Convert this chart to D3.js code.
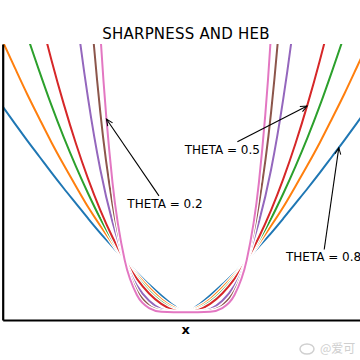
<!DOCTYPE html>
<html>
<head>
<meta charset="utf-8">
<script src="https://cdn.jsdelivr.net/npm/d3@7"></script>
<style>
  body { margin: 0; background: #fff; }
  text { font-family: "DejaVu Sans", sans-serif; }
</style>
</head>
<body>
<div id="chart"></div>
<script>
// sample positions along x
const xs = [-3.0,-2.8,-2.6,-2.4,-2.2,-2.0,-1.8,-1.6,-1.4,-1.2,-1.0,-0.8,-0.6,-0.4,-0.2,0,
            0.2,0.4,0.6,0.8,1.0,1.2,1.4,1.6,1.8,2.0,2.2,2.4,2.6,2.8,3.0];

// one curve per theta (0.8 ... 0.2)
const thetas = ["0.8", "0.67", "0.57", "0.5", "0.33", "0.25", "0.2"];
const curveBlue   = [3.95,3.62,3.30,2.99,2.68,2.38,2.09,1.80,1.52,1.26,1.00,0.76,0.53,0.32,0.13,0,
                     0.13,0.32,0.53,0.76,1.00,1.26,1.52,1.80,2.09,2.38,2.68,2.99,3.30,3.62,3.95];
const curveOrange = [5.20,4.69,4.19,3.72,3.26,2.83,2.42,2.02,1.66,1.32,1.00,0.72,0.47,0.25,0.09,0,
                     0.09,0.25,0.47,0.72,1.00,1.32,1.66,2.02,2.42,2.83,3.26,3.72,4.19,4.69,5.20];
const curveGreen  = [6.84,6.06,5.32,4.63,3.97,3.36,2.80,2.28,1.80,1.38,1.00,0.68,0.41,0.20,0.06,0,
                     0.06,0.20,0.41,0.68,1.00,1.38,1.80,2.28,2.80,3.36,3.97,4.63,5.32,6.06,6.84];
const curveRed    = [9.00,7.84,6.76,5.76,4.84,4.00,3.24,2.56,1.96,1.44,1.00,0.64,0.36,0.16,0.04,0,
                     0.04,0.16,0.36,0.64,1.00,1.44,1.96,2.56,3.24,4.00,4.84,5.76,6.76,7.84,9.00];
const curvePurple = [27.0,21.95,17.58,13.82,10.65,8.00,5.83,4.10,2.74,1.73,1.00,0.51,0.22,0.06,0.01,0,
                     0.01,0.06,0.22,0.51,1.00,1.73,2.74,4.10,5.83,8.00,10.65,13.82,17.58,21.95,27.0];
const curveBrown  = [81.0,61.5,45.7,33.2,23.4,16.0,10.5,6.55,3.84,2.07,1.00,0.41,0.13,0.03,0.002,0,
                     0.002,0.03,0.13,0.41,1.00,2.07,3.84,6.55,10.5,16.0,23.4,33.2,45.7,61.5,81.0];
const curvePink   = [243,172,119,79.6,51.5,32.0,18.9,10.5,5.38,2.49,1.00,0.33,0.08,0.01,0.0003,0,
                     0.0003,0.01,0.08,0.33,1.00,2.49,5.38,10.5,18.9,32.0,51.5,79.6,119,172,243];
const allCurves = [curveBlue, curveOrange, curveGreen, curveRed, curvePurple, curveBrown, curvePink];

// annotations: label, arrow target (on a curve), text position
const noteLabels = ["THETA = 0.2", "THETA = 0.5", "THETA = 0.8"];
const noteTarget = [[-1.3, 3.71], [1.99, 3.96], [2.51, 3.16]];
const noteText   = [[-0.34, 2.09], [0.60, 3.13], [2.26, 1.06]];

const colors = ["#1f77b4", "#ff7f0e", "#2ca02c", "#d62728", "#9467bd", "#8c564b", "#e377c2"];

const width = 360, height = 360;

const svg = d3.select("#chart").append("svg")
  .attr("width", width)
  .attr("height", height);

const defs = svg.append("defs");

defs.append("marker")
  .attr("id", "arrow")
  .attr("viewBox", "-10 -6 12 12")
  .attr("refX", 0).attr("refY", 0)
  .attr("markerWidth", 10).attr("markerHeight", 10)
  .attr("markerUnits", "userSpaceOnUse")
  .attr("orient", "auto")
  .append("path")
  .attr("d", "M-8,-3.5 L0,0 L-8,3.5")
  .attr("fill", "none")
  .attr("stroke", "#000")
  .attr("stroke-width", 1.2);

let x = d3.scaleLinear()
          .domain([-3, 3])
          .range([2.7, 368.7]);
let y = d3.scaleLinear()
          .domain([-0.15, 5.15])
          .range([320, 44]);

defs.append("clipPath").attr("id", "plotclip")
  .append("rect")
  .attr("x", x(-3)).attr("y", y(5.15))
  .attr("width", x(3) - x(-3))
  .attr("height", y(-0.15) - y(5.15));

const plot = svg.append("g");

const line = d3.line()
  .x((d, i) => x(xs[i]))
  .y(d => y(d))
  .curve(d3.curveMonotoneX);

// each curve gets a white halo under it, like the xkcd style
const curvesG = plot.append("g").attr("clip-path", "url(#plotclip)");
allCurves.forEach(function(c, i) {
  curvesG.append("path")
    .attr("d", line(c))
    .attr("fill", "none")
    .attr("stroke", "#fff")
    .attr("stroke-width", 4.5);
  curvesG.append("path")
    .attr("d", line(c))
    .attr("fill", "none")
    .attr("stroke", colors[i])
    .attr("stroke-width", 2)
    .attr("stroke-linecap", "round");
});

// spines
let xAxis = plot.append("g")
  .attr("transform", "translate(0," + y(-0.15) + ")")
  .call(d3.axisBottom(x).ticks(0).tickSizeOuter(0));
let yAxis = plot.append("g")
  .attr("transform", "translate(" + x(-3) + ",0)")
  .call(d3.axisLeft(y).ticks(0).tickSizeOuter(0));
plot.selectAll(".domain").attr("stroke", "#000").attr("stroke-width", 2.2);

// title + axis label
svg.append("text")
  .attr("x", (x(-3) + x(3)) / 2 + 0.3)
  .attr("y", 39)
  .attr("text-anchor", "middle")
  .style("font-size", "15px")
  .style("letter-spacing", "0.2px")
  .text("SHARPNESS AND HEB");

svg.append("text")
  .attr("x", x(0))
  .attr("y", 334)
  .attr("text-anchor", "middle")
  .style("font-size", "13px")
  .style("font-weight", "bold")
  .text("x");

// annotations
noteLabels.forEach(function(lab, i) {
  const tx = x(noteText[i][0]), ty = y(noteText[i][1]);
  const t = svg.append("text")
    .attr("x", tx).attr("y", ty + 4.5)
    .attr("text-anchor", "middle")
    .style("font-size", "12px")
    .text(lab);
  const bb = t.node().getBBox();
  const ax = x(noteTarget[i][0]), ay = y(noteTarget[i][1]);
  // leave the text box along the line towards the target
  const cx = bb.x + bb.width / 2, cy = bb.y + bb.height / 2;
  const dx = ax - cx, dy = ay - cy;
  const s = Math.min(Math.abs((bb.width / 2 + 2) / dx), Math.abs((bb.height / 2 + 1) / dy));
  svg.append("line")
    .attr("x1", cx + dx * s).attr("y1", cy + dy * s)
    .attr("x2", ax).attr("y2", ay)
    .attr("stroke", "#000")
    .attr("stroke-width", 1.1)
    .attr("marker-end", "url(#arrow)");
});

// watermark
svg.append("ellipse")
  .attr("cx", 307).attr("cy", 349).attr("rx", 7).attr("ry", 5)
  .attr("fill", "none").attr("stroke", "#d0d0d0").attr("stroke-width", 1.5);
svg.append("text")
  .attr("x", 320).attr("y", 353)
  .style("font-family", "'Noto Sans CJK SC', sans-serif")
  .style("font-size", "12px")
  .attr("fill", "#cfcfcf")
  .text("@爱可");
</script>
</body>
</html>
